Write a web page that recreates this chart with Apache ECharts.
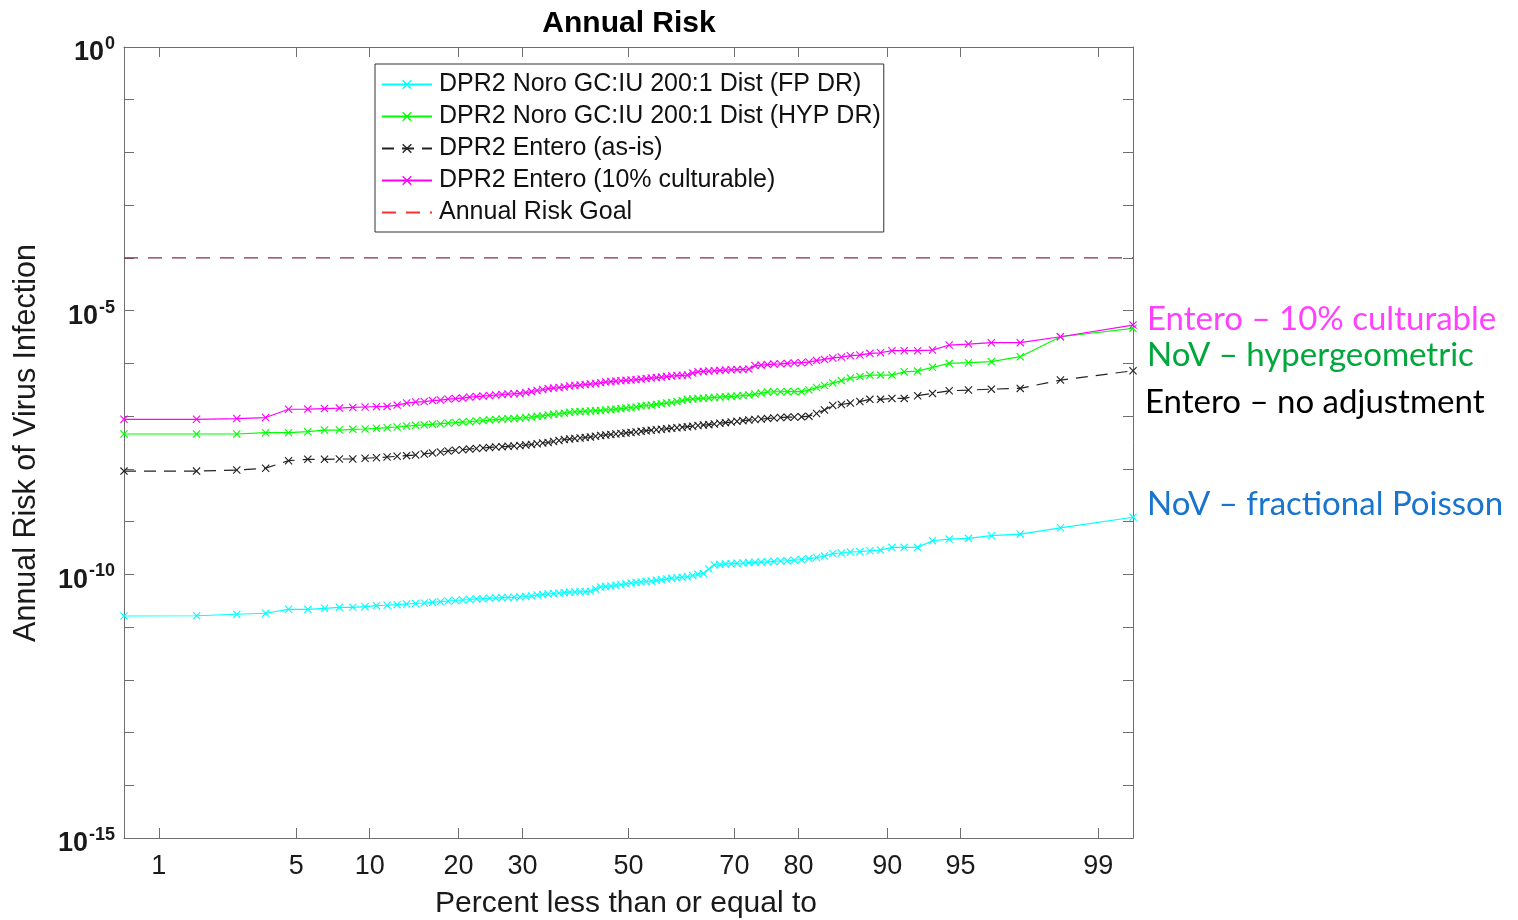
<!DOCTYPE html>
<html>
<head>
<meta charset="utf-8">
<title>Annual Risk</title>
<script src="https://cdn.jsdelivr.net/npm/echarts@6/dist/echarts.min.js"></script>
<style>
  html, body { margin: 0; padding: 0; background: #ffffff; }
  #chart { width: 1518px; height: 920px; }
</style>
</head>
<body>
<div id="chart"></div>
<script>
// Sorted annual infection risk for each scenario (100 simulated values each, ascending)
const noroFP = [
  1.62e-11, 1.64e-11, 1.75e-11, 1.83e-11, 2.17e-11, 2.17e-11, 2.27e-11, 2.37e-11, 2.37e-11, 2.44e-11,
  2.55e-11, 2.59e-11, 2.66e-11, 2.74e-11, 2.80e-11, 2.86e-11, 2.95e-11, 3.03e-11, 3.12e-11, 3.19e-11,
  3.26e-11, 3.33e-11, 3.41e-11, 3.45e-11, 3.51e-11, 3.56e-11, 3.61e-11, 3.64e-11, 3.67e-11, 3.72e-11,
  3.80e-11, 3.88e-11, 4.06e-11, 4.15e-11, 4.24e-11, 4.33e-11, 4.43e-11, 4.49e-11, 4.58e-11, 4.62e-11,
  4.66e-11, 4.68e-11, 4.77e-11, 5.27e-11, 5.75e-11, 5.88e-11, 6.00e-11, 6.19e-11, 6.36e-11, 6.55e-11,
  6.84e-11, 7.00e-11, 7.15e-11, 7.31e-11, 7.47e-11, 7.70e-11, 7.90e-11, 8.14e-11, 8.43e-11, 8.62e-11,
  8.81e-11, 9.01e-11, 9.49e-11, 1.00e-10, 1.04e-10, 1.26e-10, 1.50e-10, 1.53e-10, 1.57e-10, 1.59e-10,
  1.62e-10, 1.64e-10, 1.67e-10, 1.69e-10, 1.71e-10, 1.73e-10, 1.76e-10, 1.79e-10, 1.81e-10, 1.85e-10,
  1.91e-10, 1.99e-10, 2.08e-10, 2.22e-10, 2.48e-10, 2.54e-10, 2.65e-10, 2.70e-10, 2.80e-10, 2.89e-10,
  3.25e-10, 3.25e-10, 3.25e-10, 4.33e-10, 4.66e-10, 4.81e-10, 5.40e-10, 5.80e-10, 7.63e-10, 1.21e-9
];
const noroHYP = [
  4.58e-8, 4.58e-8, 4.58e-8, 4.85e-8, 4.85e-8, 5.07e-8, 5.45e-8, 5.45e-8, 5.62e-8, 5.70e-8,
  5.88e-8, 6.03e-8, 6.22e-8, 6.49e-8, 6.70e-8, 6.84e-8, 7.00e-8, 7.18e-8, 7.40e-8, 7.56e-8,
  7.73e-8, 7.83e-8, 8.08e-8, 8.25e-8, 8.43e-8, 8.62e-8, 8.81e-8, 8.93e-8, 9.01e-8, 9.12e-8,
  9.41e-8, 9.61e-8, 9.91e-8, 1.01e-7, 1.05e-7, 1.08e-7, 1.11e-7, 1.14e-7, 1.18e-7, 1.21e-7,
  1.22e-7, 1.24e-7, 1.25e-7, 1.27e-7, 1.28e-7, 1.31e-7, 1.33e-7, 1.36e-7, 1.39e-7, 1.42e-7,
  1.46e-7, 1.49e-7, 1.55e-7, 1.59e-7, 1.62e-7, 1.67e-7, 1.72e-7, 1.77e-7, 1.81e-7, 1.89e-7,
  1.97e-7, 2.08e-7, 2.11e-7, 2.15e-7, 2.18e-7, 2.22e-7, 2.26e-7, 2.30e-7, 2.34e-7, 2.37e-7,
  2.40e-7, 2.46e-7, 2.51e-7, 2.62e-7, 2.74e-7, 2.86e-7, 2.90e-7, 2.90e-7, 2.91e-7, 2.92e-7,
  2.92e-7, 3.12e-7, 3.48e-7, 3.80e-7, 4.24e-7, 4.72e-7, 5.27e-7, 5.62e-7, 6.00e-7, 6.00e-7,
  6.00e-7, 6.93e-7, 7.15e-7, 8.43e-7, 1.00e-6, 1.03e-6, 1.08e-6, 1.34e-6, 3.20e-6, 4.62e-6
];
const enteroAsIs = [
  9.08e-9, 9.08e-9, 9.49e-9, 1.03e-8, 1.43e-8, 1.52e-8, 1.52e-8, 1.54e-8, 1.54e-8, 1.59e-8,
  1.63e-8, 1.68e-8, 1.73e-8, 1.78e-8, 1.83e-8, 1.92e-8, 2.00e-8, 2.09e-8, 2.18e-8, 2.25e-8,
  2.31e-8, 2.38e-8, 2.44e-8, 2.49e-8, 2.55e-8, 2.60e-8, 2.64e-8, 2.68e-8, 2.72e-8, 2.76e-8,
  2.83e-8, 2.90e-8, 3.00e-8, 3.10e-8, 3.16e-8, 3.30e-8, 3.45e-8, 3.61e-8, 3.68e-8, 3.77e-8,
  3.85e-8, 3.93e-8, 4.02e-8, 4.15e-8, 4.29e-8, 4.39e-8, 4.48e-8, 4.58e-8, 4.68e-8, 4.79e-8,
  4.90e-8, 5.00e-8, 5.15e-8, 5.29e-8, 5.41e-8, 5.53e-8, 5.65e-8, 5.77e-8, 5.90e-8, 6.03e-8,
  6.17e-8, 6.30e-8, 6.44e-8, 6.64e-8, 6.78e-8, 6.90e-8, 7.09e-8, 7.31e-8, 7.53e-8, 7.73e-8,
  7.96e-8, 8.21e-8, 8.43e-8, 8.62e-8, 8.81e-8, 9.01e-8, 9.22e-8, 9.41e-8, 9.55e-8, 9.61e-8,
  9.70e-8, 1.00e-7, 1.12e-7, 1.31e-7, 1.59e-7, 1.66e-7, 1.77e-7, 1.89e-7, 2.08e-7, 2.08e-7,
  2.17e-7, 2.17e-7, 2.44e-7, 2.70e-7, 3.03e-7, 3.12e-7, 3.25e-7, 3.36e-7, 4.83e-7, 7.24e-7
];
const entero10 = [
  8.70e-8, 8.70e-8, 9.00e-8, 9.40e-8, 1.35e-7, 1.36e-7, 1.39e-7, 1.42e-7, 1.46e-7, 1.49e-7,
  1.51e-7, 1.53e-7, 1.62e-7, 1.77e-7, 1.85e-7, 1.89e-7, 1.97e-7, 2.02e-7, 2.11e-7, 2.15e-7,
  2.20e-7, 2.30e-7, 2.35e-7, 2.40e-7, 2.46e-7, 2.51e-7, 2.57e-7, 2.62e-7, 2.66e-7, 2.70e-7,
  2.80e-7, 2.92e-7, 3.06e-7, 3.19e-7, 3.33e-7, 3.41e-7, 3.48e-7, 3.56e-7, 3.72e-7, 3.80e-7,
  3.88e-7, 3.97e-7, 4.06e-7, 4.15e-7, 4.29e-7, 4.43e-7, 4.52e-7, 4.62e-7, 4.68e-7, 4.77e-7,
  4.83e-7, 4.93e-7, 5.04e-7, 5.15e-7, 5.27e-7, 5.38e-7, 5.50e-7, 5.62e-7, 5.75e-7, 5.88e-7,
  5.95e-7, 6.00e-7, 6.55e-7, 6.93e-7, 7.05e-7, 7.15e-7, 7.24e-7, 7.37e-7, 7.47e-7, 7.56e-7,
  7.63e-7, 7.70e-7, 7.80e-7, 9.08e-7, 9.28e-7, 9.49e-7, 9.70e-7, 9.82e-7, 1.00e-6, 1.02e-6,
  1.03e-6, 1.06e-6, 1.13e-6, 1.19e-6, 1.27e-6, 1.32e-6, 1.40e-6, 1.44e-6, 1.55e-6, 1.59e-6,
  1.74e-6, 1.74e-6, 1.74e-6, 1.79e-6, 2.23e-6, 2.33e-6, 2.47e-6, 2.47e-6, 3.20e-6, 5.34e-6
];
const riskGoal = 1e-4;

const percentTicks = [1, 5, 10, 20, 30, 50, 70, 80, 90, 95, 99];
const yTickExponents = [-15, -14, -13, -12, -11, -10, -9, -8, -7, -6, -5, -4, -3, -2, -1, 0];
const yLabelExponents = [-15, -10, -5, 0];

const seriesNames = [
  'DPR2 Noro GC:IU 200:1 Dist (FP DR)',
  'DPR2 Noro GC:IU 200:1 Dist (HYP DR)',
  'DPR2 Entero (as-is)',
  'DPR2 Entero (10% culturable)',
  'Annual Risk Goal'
];

// Inverse standard normal CDF (Acklam's rational approximation)
function probit(p) {
  const a = [-3.969683028665376e+01, 2.209460984245205e+02, -2.759285104469687e+02, 1.383577518672690e+02, -3.066479806614716e+01, 2.506628277459239e+00];
  const b = [-5.447609879822406e+01, 1.615858368580409e+02, -1.556989798598866e+02, 6.680131188771972e+01, -1.328068155288572e+01];
  const c = [-7.784894002430293e-03, -3.223964580411365e-01, -2.400758277161838e+00, -2.549732539343734e+00, 4.374664141464968e+00, 2.938163982698783e+00];
  const d = [7.784695709041462e-03, 3.224671290700398e-01, 2.445134137142996e+00, 3.754408661907416e+00];
  const plow = 0.02425, phigh = 1 - plow;
  let q, r;
  if (p < plow) {
    q = Math.sqrt(-2 * Math.log(p));
    return (((((c[0] * q + c[1]) * q + c[2]) * q + c[3]) * q + c[4]) * q + c[5]) /
      ((((d[0] * q + d[1]) * q + d[2]) * q + d[3]) * q + 1);
  }
  if (p <= phigh) {
    q = p - 0.5; r = q * q;
    return (((((a[0] * r + a[1]) * r + a[2]) * r + a[3]) * r + a[4]) * r + a[5]) * q /
      (((((b[0] * r + b[1]) * r + b[2]) * r + b[3]) * r + b[4]) * r + 1);
  }
  q = Math.sqrt(-2 * Math.log(1 - p));
  return -(((((c[0] * q + c[1]) * q + c[2]) * q + c[3]) * q + c[4]) * q + c[5]) /
    ((((d[0] * q + d[1]) * q + d[2]) * q + d[3]) * q + 1);
}

// Normal probability plot positions (Blom) for a sorted sample
function plotPairs(values) {
  const n = values.length;
  return values.map((v, i) => [probit((i + 1 - 0.375) / (n + 0.25)), v]);
}

const nPts = noroFP.length;
const zMin = probit((1 - 0.375) / (nPts + 0.25));
const zMax = probit((nPts - 0.375) / (nPts + 0.25));
const xTickZ = percentTicks.map(p => probit(p / 100));
const yTicks = yTickExponents.map(e => Math.pow(10, e));
const yLabels = yLabelExponents.map(e => Math.pow(10, e));

function percentLabel(z) {
  for (let k = 0; k < xTickZ.length; k++) {
    if (Math.abs(xTickZ[k] - z) < 1e-6) return String(percentTicks[k]);
  }
  return '';
}

// Filled "x" marker
const xMarker = 'path://M0,1L1,0L5,4L9,0L10,1L6,5L10,9L9,10L5,6L1,10L0,9L4,5Z';

const AXIS_COLOR = '#6e6e6e';
const FONT = '"Liberation Sans", Arial, sans-serif';

function makeX(position, showLabel) {
  return {
    type: 'value',
    position: position,
    min: zMin,
    max: zMax,
    axisLine: { show: true, onZero: false, lineStyle: { color: AXIS_COLOR, width: 1 } },
    axisTick: { show: true, inside: true, length: 10, customValues: xTickZ, lineStyle: { color: AXIS_COLOR } },
    axisLabel: {
      show: showLabel,
      customValues: xTickZ,
      formatter: percentLabel,
      fontFamily: FONT,
      fontSize: 27,
      color: '#1a1a1a',
      margin: 15
    },
    splitLine: { show: false }
  };
}

function makeY(position, showLabel) {
  return {
    type: 'log',
    logBase: 10,
    position: position,
    min: 1e-15,
    max: 1,
    axisLine: { show: true, onZero: false, lineStyle: { color: AXIS_COLOR, width: 1 } },
    axisTick: { show: true, inside: true, length: 10, customValues: yTicks, lineStyle: { color: AXIS_COLOR } },
    axisLabel: {
      show: showLabel,
      customValues: yLabels,
      margin: 9,
      formatter: function (v) {
        return '{b|10}{s|' + Math.round(Math.log10(v)) + '}';
      },
      rich: {
        b: { fontFamily: FONT, fontSize: 27, fontWeight: 'bold', color: '#1a1a1a', padding: [12, 0, 0, 0] },
        s: { fontFamily: FONT, fontSize: 18, fontWeight: 'bold', color: '#1a1a1a', padding: [0, 0, 6, 1] }
      }
    },
    splitLine: { show: false }
  };
}

function dataSeries(name, values, color, dashed) {
  return {
    name: name,
    type: 'line',
    xAxisIndex: 0,
    yAxisIndex: 0,
    data: plotPairs(values),
    symbol: xMarker,
    symbolSize: 8,
    showSymbol: true,
    animation: false,
    itemStyle: { color: color },
    lineStyle: { color: color, width: 1.2, type: dashed ? [12, 8] : 'solid' },
    emphasis: { disabled: true }
  };
}

const chart = echarts.init(document.getElementById('chart'), null, { renderer: 'canvas' });

chart.setOption({
  backgroundColor: '#ffffff',
  animation: false,
  title: {
    text: 'Annual Risk',
    left: 624,
    textAlign: 'center',
    top: 4,
    textStyle: { fontFamily: FONT, fontSize: 30, fontWeight: 'bold', color: '#000000' }
  },
  grid: { left: 124, right: 385, top: 47, bottom: 82, containLabel: false },
  xAxis: [makeX('bottom', true), makeX('top', false)],
  yAxis: [makeY('left', true), makeY('right', false)],
  legend: {
    orient: 'vertical',
    left: 375,
    top: 64,
    padding: [8, 3, 7, 6],
    itemGap: 7,
    itemWidth: 50,
    itemHeight: 12,
    backgroundColor: '#ffffff',
    borderColor: '#333333',
    borderWidth: 1,
    borderRadius: 0,
    textStyle: { fontFamily: FONT, fontSize: 25, color: '#111111', padding: [0, 0, 0, 2] },
    data: [
      seriesNames[0],
      seriesNames[1],
      seriesNames[2],
      seriesNames[3],
      { name: seriesNames[4], itemStyle: { opacity: 0 }, lineStyle: { color: '#ff3030' } }
    ]
  },
  graphic: [
    { type: 'text', x: 1147, y: 319, style: { text: 'Entero \u2013 10% culturable', fill: '#ff40ff', font: '33px Lato, "Open Sans", sans-serif', verticalAlign: 'middle' } },
    { type: 'text', x: 1147, y: 355, style: { text: 'NoV \u2013 hypergeometric', fill: '#00a83c', font: '33px Lato, "Open Sans", sans-serif', verticalAlign: 'middle' } },
    { type: 'text', x: 1145, y: 402, style: { text: 'Entero \u2013 no adjustment', fill: '#000000', font: '33px Lato, "Open Sans", sans-serif', verticalAlign: 'middle' } },
    { type: 'text', x: 1147, y: 504, style: { text: 'NoV \u2013 fractional Poisson', fill: '#1874cd', font: '33px Lato, "Open Sans", sans-serif', verticalAlign: 'middle' } },
    { type: 'text', x: 27, y: 443, rotation: Math.PI / 2, style: { text: 'Annual Risk of Virus Infection', fill: '#1a1a1a', font: '30.5px "Liberation Sans", Arial, sans-serif', align: 'center', verticalAlign: 'middle' } },
    { type: 'text', x: 626, y: 904, style: { text: 'Percent less than or equal to', fill: '#1a1a1a', font: '30px "Liberation Sans", Arial, sans-serif', align: 'center', verticalAlign: 'middle' } }
  ],
  series: [
    dataSeries(seriesNames[0], noroFP, '#00ffff', false),
    dataSeries(seriesNames[1], noroHYP, '#00ff00', false),
    dataSeries(seriesNames[2], enteroAsIs, '#222222', true),
    dataSeries(seriesNames[3], entero10, '#ff00ff', false),
    {
      name: seriesNames[4],
      type: 'line',
      data: [[zMin, riskGoal], [zMax, riskGoal]],
      symbol: 'none',
      animation: false,
      itemStyle: { color: '#ff3030' },
      lineStyle: { color: '#8b2a4a', width: 1.2, type: [14, 10] },
      emphasis: { disabled: true }
    }
  ]
});
</script>
</body>
</html>
